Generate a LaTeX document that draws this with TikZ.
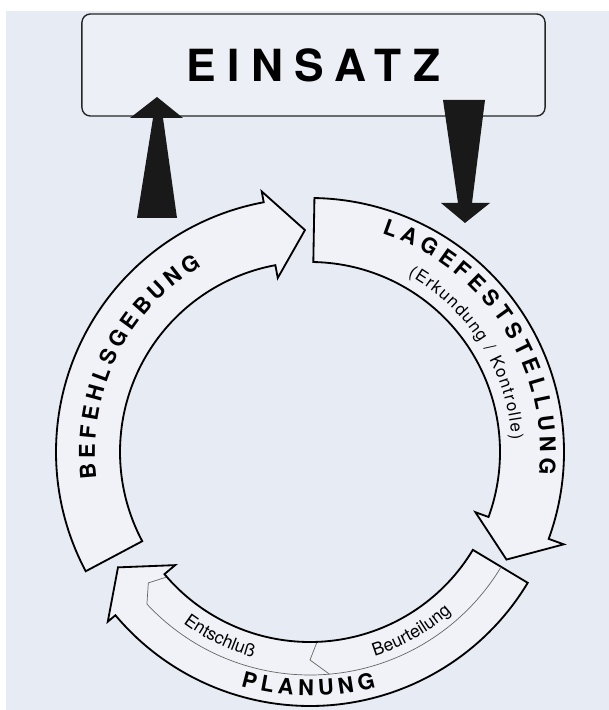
\documentclass[tikz,border=0pt]{standalone}
\usepackage{fontspec}
\setmainfont{TeX Gyre Heros}
\usepackage{tikz}
\usetikzlibrary{decorations.text}

\definecolor{bgblue}{RGB}{231,235,244}
\definecolor{arrowfill}{RGB}{241,242,247}
\definecolor{boxfill}{RGB}{237,239,246}

\newcommand{\ringbold}{\fontsize{15.5}{18}\selectfont\bfseries}
\newcommand{\ringsmall}{\fontsize{12}{14}\selectfont}
\newcommand{\partsmall}{\fontsize{12.5}{15}\selectfont}

\tikzset{
  ringarrow/.style={draw=black, fill=arrowfill, line width=1.3pt, line join=miter},
  sepline/.style={draw=black!60, line width=0.5pt},
  blackarrow/.style={fill=black!90},
  boxstyle/.style={draw=black!85, fill=boxfill, line width=1pt, rounded corners=6pt,
    minimum width=11.575cm, minimum height=2.55cm},
}

\begin{document}
\begin{tikzpicture}[x=0.025cm,y=0.025cm]
% Define the frame
\useasboundingbox (0,0) rectangle (609,710);
\fill[white] (0,0) rectangle (609,710);
\fill[bgblue] (6,0) rectangle (609,699);

% Define the box
\node[boxstyle] (einsatz) at (313.5,645)
  {\fontsize{31.5}{36}\selectfont\bfseries\addfontfeatures{LetterSpace=26}EINSATZ};

% Define the anchor points of the black arrows
\coordinate (upfoot) at (157,492);
\coordinate (downtop) at (464,610);

\begin{scope}[shift={(310,258)}]
% Draw the ring arrows
\draw[ringarrow] (89:190) -- (89:254) arc[start angle=89, end angle=-20, radius=254]
  -- (-20:270) -- (-28.7:224) -- (-20:176) -- (-20:190)
  arc[start angle=-20, end angle=89, radius=190] -- cycle;
\draw[ringarrow] (-31:190) -- (-31:254) arc[start angle=-31, end angle=-140, radius=254]
  -- (-140:264) -- (-149:224) -- (-140:176) -- (-140:190)
  arc[start angle=-140, end angle=-31, radius=190] -- cycle;
\draw[ringarrow] (208:190) -- (208:254) arc[start angle=208, end angle=100.5, radius=254]
  -- (100.5:265) -- (91.3:222) -- (100.5:177) -- (100.5:190)
  arc[start angle=100.5, end angle=208, radius=190] -- cycle;

% Draw the parts of the planning
\draw[sepline] (-31:223) arc[start angle=-31, end angle=-137, radius=223]
  -- (-141:208) -- (-139:191);
\draw[sepline] (-88:191) -- (-90:208) -- (-85:223);

% Draw the labels
\path[decorate, decoration={text along path, text align={fit to path},
  text={|\ringbold|LAGEFESTSTELLUNG}}]
  (71.8:230) arc[start angle=71.8, end angle=-5.6, radius=230];
\path[decorate, decoration={text along path, text align={fit to path},
  text={|\ringsmall|(Erkundung / Kontrolle)}}]
  (61:202) arc[start angle=61, end angle=3.5, radius=202];
\path[decorate, decoration={text along path, text align={fit to path},
  text={|\ringbold|BEFEHLSGEBUNG}}]
  (187:215) arc[start angle=187, end angle=120.3, radius=215];
\path[decorate, decoration={text along path, text align={fit to path},
  text={|\ringbold|PLANUNG}}]
  (-106.5:244) arc[start angle=-106.5, end angle=-74.3, radius=244];
\path[decorate, decoration={text along path, text align=center,
  text={|\partsmall|Entschluß}}]
  (-136:213) arc[start angle=-136, end angle=-96, radius=213];
\path[decorate, decoration={text along path, text align=center,
  text={|\partsmall|Beurteilung}}]
  (-80:214) arc[start angle=-80, end angle=-41, radius=214];
\end{scope}

% Draw the black arrows
\fill[blackarrow] (upfoot) ++(-20,0) -- ++(16,100) -- ++(-23,0) -- ++(27,21)
  -- ++(26,-21) -- ++(-20,0) -- ++(14,-100) -- cycle;
\fill[blackarrow] (downtop) ++(-21,0) -- ++(15,-103) -- ++(-17,0) -- ++(24,-20)
  -- ++(25,20) -- ++(-18,0) -- ++(13,103) -- cycle;
\end{tikzpicture}
\end{document}
